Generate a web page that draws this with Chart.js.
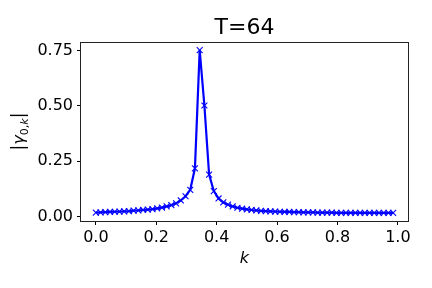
<!DOCTYPE html>
<html>
<head>
<meta charset="utf-8">
<script src="https://cdn.jsdelivr.net/npm/chart.js@4.4.0/dist/chart.umd.min.js"></script>
<style>
  html, body { margin: 0; padding: 0; background: #fff; }
  #wrap { width: 432px; height: 288px; }
</style>
</head>
<body>
<div id="wrap"><canvas id="chart" width="432" height="288"></canvas></div>
<script>
// k = n/64, n = 0..63
const kValues = [
  0, 0.0156, 0.0313, 0.0469, 0.0625, 0.0781, 0.0938, 0.1094,
  0.125, 0.1406, 0.1563, 0.1719, 0.1875, 0.2031, 0.2188, 0.2344,
  0.25, 0.2656, 0.2813, 0.2969, 0.3125, 0.3281, 0.3438, 0.3594,
  0.375, 0.3906, 0.4063, 0.4219, 0.4375, 0.4531, 0.4688, 0.4844,
  0.5, 0.5156, 0.5313, 0.5469, 0.5625, 0.5781, 0.5938, 0.6094,
  0.625, 0.6406, 0.6563, 0.6719, 0.6875, 0.7031, 0.7188, 0.7344,
  0.75, 0.7656, 0.7813, 0.7969, 0.8125, 0.8281, 0.8438, 0.8594,
  0.875, 0.8906, 0.9063, 0.9219, 0.9375, 0.9531, 0.9688, 0.9844
];
// |gamma_{0,k}|
const gammaValues = [
  0.018, 0.019, 0.020, 0.021, 0.022, 0.023, 0.024, 0.025,
  0.027, 0.028, 0.030, 0.032, 0.034, 0.037, 0.041, 0.046,
  0.052, 0.060, 0.073, 0.092, 0.121, 0.218, 0.752, 0.502,
  0.190, 0.115, 0.082, 0.064, 0.054, 0.046, 0.040, 0.036,
  0.033, 0.030, 0.028, 0.026, 0.025, 0.024, 0.023, 0.022,
  0.021, 0.021, 0.020, 0.020, 0.019, 0.019, 0.019, 0.018,
  0.018, 0.018, 0.018, 0.017, 0.017, 0.017, 0.017, 0.017,
  0.017, 0.017, 0.017, 0.017, 0.017, 0.017, 0.017, 0.017
];
const xTicks = [0, 0.2, 0.4, 0.6, 0.8, 1.0];
const yTicks = [0, 0.25, 0.5, 0.75];
const titleText = 'T=64';
const xLabel = 'k';

const FONT = "'DejaVu Sans', sans-serif";

// 枠線（四辺）とタイトル
const framePlugin = {
  id: 'frame',
  afterDraw(chart) {
    const { ctx, chartArea: a } = chart;
    ctx.save();
    ctx.strokeStyle = '#222';
    ctx.lineWidth = 1;
    ctx.strokeRect(Math.round(a.left) - 0.5, Math.round(a.top) + 0.5,
      Math.round(a.right - a.left) + 1, Math.round(a.bottom - a.top));
    // title centred on the plot area
    ctx.fillStyle = '#000';
    ctx.font = `22px ${FONT}`;
    ctx.textAlign = 'center';
    ctx.textBaseline = 'middle';
    ctx.fillText(titleText, (a.left + a.right) / 2, 28);
    ctx.restore();
  }
};

// y軸ラベル |γ_{0,k}|（添字つき）
const yLabelPlugin = {
  id: 'ylabel',
  afterDraw(chart) {
    const { ctx, chartArea: a } = chart;
    const parts = [
      { t: '|', font: `17px ${FONT}`, dy: 0 },
      { t: 'γ', font: `italic 16px ${FONT}`, dy: 0 },
      { t: '0,', font: `11px ${FONT}`, dy: 4 },
      { t: 'k', font: `italic 11px ${FONT}`, dy: 4 },
      { t: '|', font: `17px ${FONT}`, dy: 0 }
    ];
    ctx.save();
    let total = 0;
    parts.forEach(p => { ctx.font = p.font; p.w = ctx.measureText(p.t).width; total += p.w; });
    ctx.translate(18, (a.top + a.bottom) / 2);
    ctx.rotate(-Math.PI / 2);
    ctx.fillStyle = '#000';
    ctx.textBaseline = 'alphabetic';
    ctx.textAlign = 'left';
    let x = -total / 2;
    parts.forEach(p => {
      ctx.font = p.font;
      ctx.fillText(p.t, x, 6 + p.dy);
      x += p.w;
    });
    ctx.restore();
  }
};

new Chart(document.getElementById('chart'), {
  type: 'line',
  data: {
    datasets: [{
      data: kValues.map((k, i) => ({ x: k, y: gammaValues[i] })),
      borderColor: '#0000ff',
      backgroundColor: '#0000ff',
      borderWidth: 2.2,
      pointStyle: 'crossRot',
      pointRadius: 4.2,
      pointBorderWidth: 1.1,
      pointBorderColor: '#0000ff',
      tension: 0,
      clip: false
    }]
  },
  options: {
    responsive: false,
    animation: false,
    events: [],
    layout: { padding: { top: 42, right: 24, left: 0, bottom: 0 } },
    plugins: { legend: { display: false }, tooltip: { enabled: false }, title: { display: false } },
    scales: {
      x: {
        type: 'linear',
        min: -0.0492,
        max: 1.0336,
        afterBuildTicks: s => { s.ticks = xTicks.map(v => ({ value: v })); },
        afterFit: s => { s.height = 67; },
        grid: { display: true, drawOnChartArea: false, tickLength: 4, color: '#000', tickColor: '#000' },
        border: { display: false },
        ticks: {
          color: '#000', padding: 3, maxRotation: 0, autoSkip: false,
          font: { family: FONT, size: 16 },
          callback: v => v.toFixed(1)
        },
        title: {
          display: true, text: xLabel, color: '#000',
          font: { family: FONT, size: 16, style: 'italic' },
          padding: { top: 0, bottom: 20 }
        }
      },
      y: {
        type: 'linear',
        min: -0.0198,
        max: 0.7888,
        afterBuildTicks: s => { s.ticks = yTicks.map(v => ({ value: v })); },
        afterFit: s => { s.width = 81; },
        grid: { display: true, drawOnChartArea: false, tickLength: 4, color: '#000', tickColor: '#000' },
        border: { display: false },
        ticks: {
          color: '#000', padding: 4, autoSkip: false,
          font: { family: FONT, size: 16 },
          callback: v => v.toFixed(2)
        }
      }
    }
  },
  plugins: [framePlugin, yLabelPlugin]
});
</script>
</body>
</html>
